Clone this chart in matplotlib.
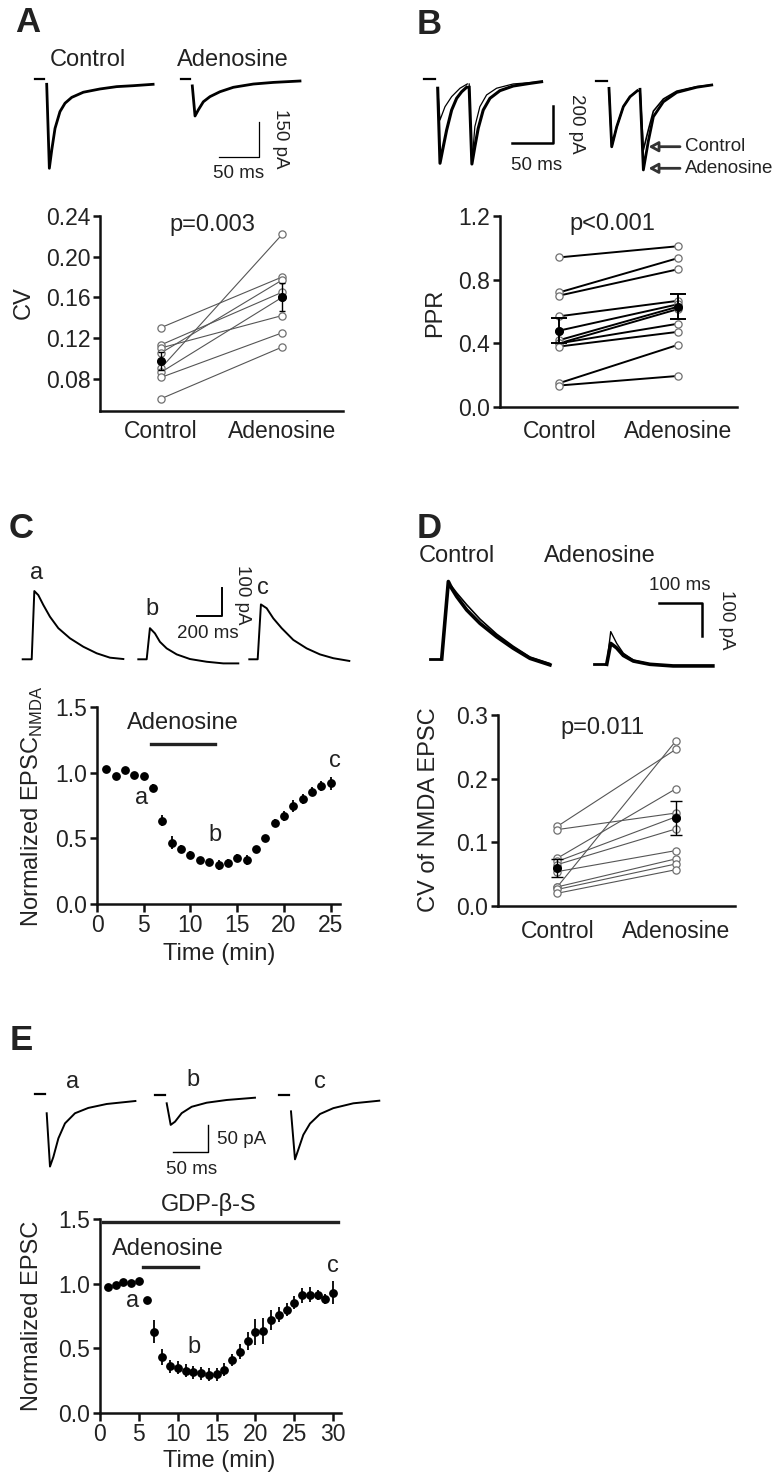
import matplotlib
matplotlib.use('Agg')
import matplotlib.pyplot as plt
import numpy as np

nan = float('nan')

# ---------------- data ----------------
groups = ['Control', 'Adenosine']

# Panel A: CV of EPSC
A_control = [0.130, 0.113, 0.110, 0.105, 0.090, 0.086, 0.081, 0.060]
A_adenosine = [0.180, 0.165, 0.142, 0.177, 0.222, 0.160, 0.125, 0.111]
A_mean = [0.097, 0.160]
A_sem = [0.009, 0.014]
A_yticks = [0.08, 0.12, 0.16, 0.20, 0.24]

# Panel B: paired-pulse ratio
B_control = [0.94, 0.72, 0.70, 0.57, 0.48, 0.42, 0.40, 0.40, 0.38, 0.15, 0.135]
B_adenosine = [1.01, 0.935, 0.865, 0.667, 0.645, 0.63, 0.615, 0.523, 0.472, 0.39, 0.195]
B_mean = [0.48, 0.63]
B_sem = [0.08, 0.08]
B_yticks = [0.0, 0.4, 0.8, 1.2]

# Panel C: normalized NMDA EPSC time course
C_time = list(range(1, 26))
C_norm = [1.025, 0.975, 1.018, 0.985, 0.975, 0.885, 0.635, 0.467, 0.416, 0.373,
          0.335, 0.320, 0.297, 0.310, 0.353, 0.335, 0.420, 0.505, 0.614, 0.670,
          0.746, 0.800, 0.855, 0.897, 0.920]
C_err = [0.015, 0.015, 0.015, 0.015, 0.015, 0.03, 0.04, 0.05, 0.03, 0.03,
         0.025, 0.025, 0.04, 0.03, 0.03, 0.035, 0.02, 0.02, 0.03, 0.035,
         0.045, 0.04, 0.035, 0.04, 0.05]
C_adenosine_bar = [5.75, 12.65]

# Panel D: CV of NMDA EPSC
D_control = [0.125, 0.120, 0.030, 0.075, 0.070, 0.065, 0.054, 0.030, 0.026, 0.020]
D_adenosine = [0.246, 0.146, 0.259, 0.184, 0.140, 0.121, 0.087, 0.074, 0.066, 0.057]
D_mean = [0.060, 0.138]
D_sem = [0.014, 0.027]
D_yticks = [0.0, 0.1, 0.2, 0.3]

# Panel E: normalized EPSC with GDP-beta-S
E_time = list(range(1, 31))
E_norm = [0.975, 0.990, 1.015, 1.005, 1.020, 0.870, 0.630, 0.434, 0.360, 0.350,
          0.327, 0.315, 0.307, 0.297, 0.300, 0.335, 0.410, 0.475, 0.556, 0.625,
          0.632, 0.718, 0.760, 0.800, 0.853, 0.910, 0.916, 0.910, 0.880, 0.930]
E_err = [0.02, 0.02, 0.02, 0.02, 0.02, 0.03, 0.09, 0.06, 0.05, 0.05,
         0.05, 0.05, 0.05, 0.05, 0.05, 0.05, 0.05, 0.06, 0.07, 0.10,
         0.10, 0.08, 0.06, 0.05, 0.05, 0.06, 0.06, 0.04, 0.04, 0.09]
E_adenosine_bar = [5.5, 12.55]
E_gdp_bar = [0.42, 30.6]

# ---- example current traces (time in ms, current in pA, rel. to baseline) ----
A_ctrl_t = [0, 3.3, 6.3, 10.4, 16.6, 22.9, 31.3, 45.8, 66.6, 87.5, 108, 133]
A_ctrl_I = [0, -360, -282, -189, -117, -81, -56, -34, -20, -10, -6, 0]
A_ado_t = [0, 3.4, 7.5, 13.8, 22.1, 34.6, 51.3, 76.3, 101.3, 134.6]
A_ado_I = [-21, -150, -124, -89, -67, -46, -27, -13, -6, 0]
A_bar = [50, 150]  # ms, pA

B_lt_t = [0, 2.8, 6.8, 10.9, 17, 23.1, 29.2, 35.2, nan, 38.4, 41.7, 45.3, 49.4, 55.5, 63.7, 75.9, 92.1, 112.4, 126.7]
B_lt_I = [-35, -437, -348, -259, -152, -89, -54, -30, nan, -30, -441, -348, -250, -152, -89, -48, -23, -9, 0]
B_ln_t = [0, 2.8, 8.9, 17, 27.2, 36.1, nan, 38.4, 41.7, 45.3, 51.4, 59.6, 71.8, 92.1, 126.7]
B_ln_I = [-35, -205, -134, -80, -35, -12, nan, -12, -441, -241, -134, -71, -35, -12, 0]
B_r_t = [0, 3.3, 9.4, 17.5, 25.6, 34.5, nan, 37.8, 41.9, 48, 54.1, 66.3, 82.6, 107, 125.3]
B_r_ado_I = [-18, -331, -224, -116, -63, -31, nan, -23, -455, -300, -170, -90, -40, -12, 0]
B_r_ctl_I = [-18, -331, -224, -116, -63, -31, nan, -23, -348, -240, -140, -75, -33, -9, 0]
B_bar = [50, 200]

C_a_t = [0, 72, 93, 125, 165, 218, 285, 378, 485, 592, 698, 805]
C_a_I = [0, 0, 250, 235, 199, 156, 114, 77, 46, 22, 6, 1]
C_b_t = [0, 67, 93, 133, 173, 227, 307, 413, 547, 680, 800]
C_b_I = [0, 0, 114, 95, 64, 40, 18, 1, -9, -15, -15]
C_c_t = [0, 67, 93, 139, 192, 259, 352, 459, 565, 672, 800]
C_c_I = [0, 0, 201, 187, 150, 114, 71, 40, 18, 4, -6]
C_bar = [200, 100]

D_ctl_t = [0, 15.7, 23.6, 35.5, 59.1, 90.5, 130, 169, 208.6, 255.9]
D_ctl_I1 = [0, 237, 216, 191, 150, 109, 68, 33, 2, -18]
D_ctl_I2 = [0, 228, 222, 202, 166, 122, 76, 39, 6, -14]
D_ado_t = [0, 9.5, 23.6, 39.3, 63, 102, 157, 251]
D_ado_I1 = [0, 100, 64, 34, 13, 1, -5, -5]
D_ado_I2 = [0, 64, 50, 27, 10, 0, -5, -5]
D_bar = [100, 100]

E_a_t = [0, 4.7, 9.5, 16.7, 26.1, 40.4, 59.4, 85.7, 126.7]
E_a_I = [-23, -123, -105, -70, -42, -23, -13, -5.6, 0]
E_b_t = [0, 5.7, 11.9, 21.4, 35.7, 57.1, 85.7, 126.1]
E_b_I = [-10.5, -51, -45, -29, -17, -9.4, -4.3, 0]
E_c_t = [0, 5.7, 10.4, 17.6, 27.1, 41.4, 60.4, 89, 126.1]
E_c_I = [-20, -110, -92, -64, -43, -25, -14, -4.9, 0]
E_bar = [50, 50]

# ---------------- figure ----------------
plt.rcParams['font.family'] = ['Liberation Sans', 'DejaVu Sans']
W, H = 780, 1484
fig = plt.figure(figsize=(W / 100, H / 100), dpi=100)
TXT = '#222222'
FS = 16.5


def px_axes(l, t, r, b):
    return fig.add_axes([l / W, 1 - b / H, (r - l) / W, (b - t) / H])


def ftext(x, y, s, **kw):
    kw.setdefault('ha', 'center')
    kw.setdefault('va', 'center')
    kw.setdefault('color', TXT)
    fig.text(x / W, 1 - y / H, s, **kw)


def trace_axes(l, t, r, b, sx, sy):
    ax = px_axes(l, t, r, b)
    ax.set_xlim(0, (r - l) / sx)
    ax.set_ylim(-(b - t) / sy, 0)
    ax.axis('off')

    def place(xp, yp):
        return (xp - l) / sx, -(yp - t) / sy
    return ax, place


def draw(ax, pos, t, I, **kw):
    x0, y0 = pos
    ax.plot(np.array(t, float) + x0, np.array(I, float) + y0,
            color='k', solid_joinstyle='round', **kw)


def dash(ax, pos, t0, t1, lev, lw=1.6):
    x0, y0 = pos
    ax.plot([x0 + t0, x0 + t1], [y0 + lev, y0 + lev], color='k', lw=lw)


def style(ax):
    for s in ['top', 'right']:
        ax.spines[s].set_visible(False)
    for s in ['left', 'bottom']:
        ax.spines[s].set_linewidth(1.8)
        ax.spines[s].set_color('#111111')
    ax.tick_params(width=1.8, length=5, labelsize=FS, pad=2, direction='out',
                   colors='#111111', labelcolor=TXT)


def paired(ax, ctl, ado, mean, sem, lcol, llw, capsize, elw, pad):
    for c, a in zip(ctl, ado):
        ax.plot([0, 1], [c, a], color=lcol, lw=llw, zorder=2)
    ax.plot([0] * len(ctl), ctl, 'o', ms=5.2, mfc='white', mec='#707070', mew=0.9, zorder=3)
    ax.plot([1] * len(ado), ado, 'o', ms=5.2, mfc='white', mec='#707070', mew=0.9, zorder=3)
    ax.errorbar([0, 1], mean, yerr=sem, fmt='o', color='k', ms=5.5, capsize=capsize,
                elinewidth=elw, capthick=elw, zorder=5)
    ax.set_xlim(-0.5, 1.5)
    ax.set_xticks([0, 1])
    ax.set_xticklabels(groups)
    style(ax)
    ax.tick_params(axis='x', length=0, pad=pad)


# ---------- Panel A ----------
ftext(28, 23, 'A', fontsize=25, fontweight='bold')
axt, place = trace_axes(0, 0, 390, 200, 0.8, 0.2333)
p = place(46.7, 84.3)
draw(axt, p, A_ctrl_t, A_ctrl_I, lw=2.0)
dash(axt, p, -14.4, -3.4, 23)
p = place(192.3, 81)
draw(axt, p, A_ado_t, A_ado_I, lw=2.0)
dash(axt, p, -14, -3, 7)
cx, cy = place(259.3, 156.7)
axt.plot([cx - A_bar[0], cx, cx], [cy, cy, cy + A_bar[1]], color='k', lw=0.9)
ftext(88, 60, 'Control', fontsize=17)
ftext(233, 60, 'Adenosine', fontsize=17)
ftext(281, 139, '150 pA', fontsize=13.5, rotation=-90)
ftext(239, 174, '50 ms', fontsize=13.5)

axA = px_axes(100, 216, 343, 411)
paired(axA, A_control, A_adenosine, A_mean, A_sem, '#555555', 0.8, 2.5, 1.0, 6.5)
axA.set_ylim(0.048, 0.24)
axA.set_yticks(A_yticks)
axA.set_yticklabels([f'{v:.2f}' for v in A_yticks])
ftext(212, 225, 'p=0.003', fontsize=17)
ftext(24, 303, 'CV', fontsize=17, rotation=90)

# ---------- Panel B ----------
ftext(429, 24, 'B', fontsize=25, fontweight='bold')
axt, place = trace_axes(390, 0, 780, 200, 0.82, 0.1867)
p = place(437.7, 81.7)
draw(axt, p, B_lt_t, B_lt_I, lw=2.2)
draw(axt, p, B_ln_t, B_ln_I, lw=0.9)
dash(axt, p, -16.3, -3.3, 14)
p = place(609, 85)
draw(axt, p, B_r_t, B_r_ado_I, lw=2.0)
draw(axt, p, B_r_t, B_r_ctl_I, lw=1.2)
dash(axt, p, -16.2, -2.9, 23)
cx, cy = place(552.7, 143.3)
axt.plot([cx - B_bar[0], cx, cx], [cy, cy, cy + B_bar[1]], color='k', lw=1.8)
ftext(577, 124, '200 pA', fontsize=13.5, rotation=-90)
ftext(537, 165, '50 ms', fontsize=13.5)
for yy, lab in [(146.7, 'Control'), (168.3, 'Adenosine')]:
    axt.annotate('', xy=place(648.5, yy), xytext=place(680, yy),
                 arrowprops=dict(arrowstyle='-|>,head_length=0.55,head_width=0.3',
                                 ec='#333333', fc='white', lw=2.0, shrinkA=0, shrinkB=0))
    ftext(685, yy, lab, fontsize=13.5, ha='left')

axB = px_axes(500, 216, 737, 407)
paired(axB, B_control, B_adenosine, B_mean, B_sem, 'k', 1.4, 5.5, 1.4, 9.5)
axB.set_ylim(0, 1.2)
axB.set_yticks(B_yticks)
axB.set_yticklabels([f'{v:.1f}' for v in B_yticks])
ftext(612, 224, 'p<0.001', fontsize=17)
ftext(435, 313, 'PPR', fontsize=17, rotation=90)

# ---------- Panel C ----------
ftext(21, 528, 'C', fontsize=25, fontweight='bold')
axt, place = trace_axes(0, 560, 390, 700, 0.125, 0.273)
for x0, t, I in [(22.7, C_a_t, C_a_I), (138.3, C_b_t, C_b_I), (249.3, C_c_t, C_c_I)]:
    draw(axt, place(x0, 659.3), t, I, lw=1.4)
cx, cy = place(221.7, 615.7)
axt.plot([cx - C_bar[0], cx, cx], [cy, cy, cy + C_bar[1]], color='k', lw=1.4)
ftext(37, 573, 'a', fontsize=17)
ftext(152, 609, 'b', fontsize=17)
ftext(263, 588, 'c', fontsize=17)
ftext(242, 595, '100 pA', fontsize=13.5, rotation=-90)
ftext(208, 634, '200 ms', fontsize=13.5)

axC = px_axes(97, 707, 340, 904)
axC.errorbar(C_time, C_norm, yerr=C_err, fmt='o', color='k', ms=5.3,
             elinewidth=1.3, capsize=0, clip_on=False, zorder=4)
axC.plot(C_adenosine_bar, [1.217, 1.217], color='#222222', lw=2.4)
axC.text(9.14, 1.377, 'Adenosine', fontsize=17, ha='center', va='center', color=TXT)
axC.text(4.8, 0.81, 'a', fontsize=17, ha='center', va='center', color=TXT)
axC.text(12.65, 0.525, 'b', fontsize=17, ha='center', va='center', color=TXT)
axC.text(25.5, 1.09, 'c', fontsize=17, ha='center', va='center', color=TXT)
axC.set_xlim(0, 26)
axC.set_ylim(0, 1.5)
axC.set_xticks(range(0, 26, 5))
axC.set_yticks([0, 0.5, 1.0, 1.5])
axC.set_yticklabels(['0.0', '0.5', '1.0', '1.5'])
style(axC)
axC.tick_params(axis='x', length=5.5, pad=2)
ftext(219, 954, 'Time (min)', fontsize=17)
ftext(32, 806, 'Normalized EPSC$_{\\mathregular{NMDA}}$', fontsize=17, rotation=90)

# ---------- Panel D ----------
ftext(429, 528, 'D', fontsize=25, fontweight='bold')
axt, place = trace_axes(390, 560, 780, 700, 0.423, 0.327)
p = place(441.7, 659)
draw(axt, p, D_ctl_t, D_ctl_I2, lw=1.2)
draw(axt, p, D_ctl_t, D_ctl_I1, lw=2.6)
dash(axt, p, -27, -4, 0, lw=2.0)
p = place(606.7, 664.3)
draw(axt, p, D_ado_t, D_ado_I1, lw=1.0)
draw(axt, p, D_ado_t, D_ado_I2, lw=2.6)
dash(axt, p, -30, -4, 0, lw=2.0)
cx, cy = place(701.7, 603.3)
axt.plot([cx - D_bar[0], cx, cx], [cy, cy, cy - D_bar[1]], color='k', lw=1.8)
ftext(457, 556, 'Control', fontsize=17)
ftext(600, 556, 'Adenosine', fontsize=17)
ftext(680, 585, '100 ms', fontsize=13.5)
ftext(726, 620, '100 pA', fontsize=13.5, rotation=-90)

axD = px_axes(498, 715, 735, 906)
paired(axD, D_control, D_adenosine, D_mean, D_sem, '#555555', 0.8, 4.5, 1.0, 10)
axD.set_ylim(0, 0.3)
axD.set_yticks(D_yticks)
axD.set_yticklabels([f'{v:.1f}' for v in D_yticks])
ftext(603, 728, 'p=0.011', fontsize=17)
ftext(429, 810, 'CV of NMDA EPSC', fontsize=17, rotation=90)

# ---------- Panel E ----------
ftext(21, 1040, 'E', fontsize=25, fontweight='bold')
axt, place = trace_axes(0, 1060, 390, 1180, 0.7, 0.533)
for x0, y0, t, I, lev in [(46.7, 1101, E_a_t, E_a_I, 14), (166.7, 1097.7, E_b_t, E_b_I, 5),
                          (291, 1100.7, E_c_t, E_c_I, 10.7)]:
    p = place(x0, y0)
    draw(axt, p, t, I, lw=1.4)
    dash(axt, p, -16.7, -2.4, lev)
cx, cy = place(208.3, 1151.7)
axt.plot([cx - E_bar[0], cx, cx], [cy, cy, cy + E_bar[1]], color='k', lw=1.0)
ftext(73, 1082, 'a', fontsize=17)
ftext(193, 1080, 'b', fontsize=17)
ftext(320, 1082, 'c', fontsize=17)
ftext(242, 1140, '50 pA', fontsize=13.5)
ftext(192, 1170, '50 ms', fontsize=13.5)

axE = px_axes(100, 1219, 341, 1413)
axE.errorbar(E_time, E_norm, yerr=E_err, fmt='o', color='k', ms=5.3,
             elinewidth=1.3, capsize=0, clip_on=False, zorder=4)
axE.plot(E_adenosine_bar, [1.132, 1.132], color='#222222', lw=2.4)
axE.plot(E_gdp_bar, [1.48, 1.48], color='#222222', lw=2.4, clip_on=False)
axE.text(14.0, 1.61, 'GDP-β-S', fontsize=17, ha='center', va='center', color=TXT, clip_on=False)
axE.text(8.78, 1.271, 'Adenosine', fontsize=17, ha='center', va='center', color=TXT)
axE.text(4.2, 0.865, 'a', fontsize=17, ha='center', va='center', color=TXT)
axE.text(12.1, 0.51, 'b', fontsize=17, ha='center', va='center', color=TXT)
axE.text(30.0, 1.14, 'c', fontsize=17, ha='center', va='center', color=TXT)
axE.set_xlim(0, 31)
axE.set_ylim(0, 1.5)
axE.set_xticks(range(0, 31, 5))
axE.set_yticks([0, 0.5, 1.0, 1.5])
axE.set_yticklabels(['0.0', '0.5', '1.0', '1.5'])
style(axE)
axE.tick_params(axis='x', length=5.5, pad=2)
ftext(219, 1461, 'Time (min)', fontsize=17)
ftext(32, 1316, 'Normalized EPSC', fontsize=17, rotation=90)

fig.savefig('out.png', dpi=100)
